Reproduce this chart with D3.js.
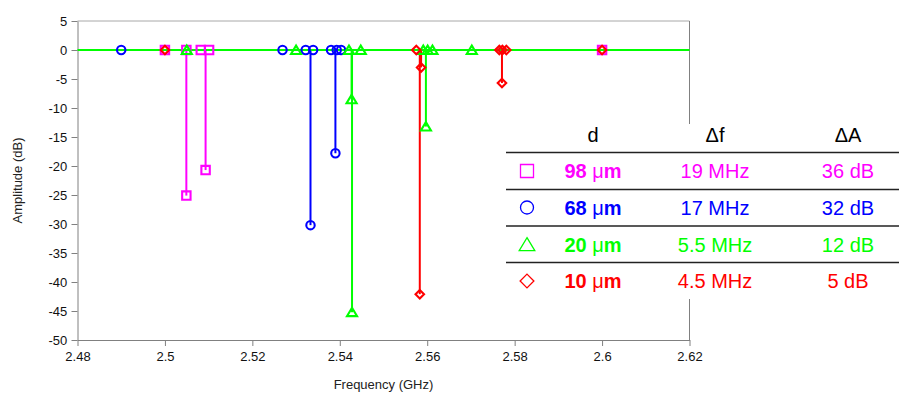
<!DOCTYPE html>
<html><head><meta charset="utf-8">
<script src="https://cdn.jsdelivr.net/npm/d3@7"></script>
<style>body{margin:0;background:#fff}svg{display:block;font-family:"Liberation Sans",Arial,sans-serif}</style>
</head><body><svg id="c" width="899" height="394"></svg>
<script>
// ---- data ----
const xTicks = [2.48, 2.5, 2.52, 2.54, 2.56, 2.58, 2.6, 2.62];
const yTicks = [5, 0, -5, -10, -15, -20, -25, -30, -35, -40, -45, -50];
const baseline = [[2.48, 0], [2.62, 0]];
// [frequency GHz, amplitude dB]
const magenta = [[2.5, 0], [2.5049, 0], [2.5049, -25.1], [2.5082, 0], [2.5093, -20.7], [2.5101, 0], [2.6, 0]];
const blue = [[2.49, 0], [2.5269, 0], [2.5322, 0], [2.5333, -30.2], [2.5339, 0], [2.538, 0], [2.5390, -17.8], [2.5393, 0], [2.5403, 0]];
const green = [[2.505, 0], [2.53, 0], [2.5421, 0], [2.5427, -8.5], [2.5428, -45.2], [2.5448, 0], [2.5591, 0], [2.5597, -13.2], [2.5601, 0], [2.5612, 0], [2.5702, 0]];
const red = [[2.5, 0], [2.5575, 0], [2.5583, -42.1], [2.5586, -3.0], [2.5765, 0], [2.5771, -5.7], [2.5772, 0], [2.5781, 0], [2.6, 0]];
const legendHeader = ["d", "Δf", "ΔA"];
const legendD = ["98", "68", "20", "10"];
const legendDf = ["19 MHz", "17 MHz", "5.5 MHz", "4.5 MHz"];
const legendDA = ["36 dB", "32 dB", "12 dB", "5 dB"];

const colors = ["#ff00ff", "#0000ff", "#00ff00", "#ff0000"];
const shapes = ["square", "circle", "triangle", "diamond"];
const series = [magenta, blue, green, red];

const svg = d3.select("#c");
const x = d3.scaleLinear().domain([2.48, 2.62]).range([77.5, 689.5]);
const y = d3.scaleLinear().domain([-50, 5]).range([340, 21]);

// frame
svg.append("line").attr("x1", x(2.48)).attr("x2", x(2.62)).attr("y1", y(5)).attr("y2", y(5)).attr("stroke", "#a8a8a8");
svg.append("line").attr("x1", x(2.62)).attr("x2", x(2.62)).attr("y1", y(5)).attr("y2", y(-50)).attr("stroke", "#808080");

// axes
const fmt = d => String(+d.toFixed(2));
const gx = svg.append("g").attr("transform", `translate(0,${y(-50)})`)
  .call(d3.axisBottom(x).tickValues(xTicks).tickFormat(fmt).tickSize(6).tickSizeOuter(0));
const gy = svg.append("g").attr("transform", `translate(${x(2.48)},0)`)
  .call(d3.axisLeft(y).tickValues(yTicks).tickFormat(d => String(d)).tickSize(6).tickSizeOuter(0));
[gx, gy].forEach(g => {
  g.select(".domain").attr("stroke", "#808080");
  g.selectAll(".tick line").attr("stroke", "#808080");
  g.selectAll(".tick text").attr("fill", "#111").style("font-size", "13px")
    .style("font-family", '"Liberation Sans",Arial,sans-serif');
});
gx.selectAll(".tick text").attr("dy", "0.95em");
gy.selectAll(".tick text").attr("dx", "-0.1em");

svg.append("text").attr("x", (x(2.48) + x(2.62)) / 2).attr("y", 389).attr("text-anchor", "middle")
  .attr("fill", "#222").style("font-size", "13px").text("Frequency (GHz)");
svg.append("text").attr("transform", `translate(22,${(y(5) + y(-50)) / 2}) rotate(-90)`)
  .attr("text-anchor", "middle").attr("fill", "#222").style("font-size", "13px").text("Amplitude (dB)");

// stems
series.forEach((s, i) => {
  svg.append("g").selectAll("line").data(s.filter(p => p[1] < 0)).join("line")
    .attr("x1", d => x(d[0])).attr("x2", d => x(d[0]))
    .attr("y1", y(0)).attr("y2", d => y(d[1]))
    .attr("stroke", colors[i]).attr("stroke-width", 2);
});
// baseline
svg.append("path").datum(baseline)
  .attr("d", d3.line().x(d => x(d[0])).y(d => y(d[1])))
  .attr("stroke", "#00ff00").attr("stroke-width", 2).attr("fill", "none");

function shapePath(shape, s) {
  if (shape === "square") return `M${-s},${-s}H${s}V${s}H${-s}Z`;
  if (shape === "circle") return `M${-s},0A${s},${s} 0 1 0 ${s},0A${s},${s} 0 1 0 ${-s},0Z`;
  if (shape === "triangle") return `M0,${-s * 1.05}L${s * 1.2},${s * 0.95}L${-s * 1.2},${s * 0.95}Z`;
  if (shape === "diamond") return `M0,${-s * 1.15}L${s * 1.15},0L0,${s * 1.15}L${-s * 1.15},0Z`;
}
// markers
series.forEach((s, i) => {
  svg.append("g").selectAll("path").data(s).join("path")
    .attr("transform", d => `translate(${x(d[0])},${y(d[1])})`)
    .attr("d", shapePath(shapes[i], shapes[i] === "diamond" ? 3.7 : 4.2))
    .attr("fill", "none").attr("stroke", colors[i]).attr("stroke-width", 2.1);
});

// legend table
const lg = svg.append("g");
lg.append("rect").attr("x", 505).attr("y", 124).attr("width", 394).attr("height", 175).attr("fill", "#fff");
const colX = [593, 715, 848];
const rowY = [171, 207.5, 244.5, 281];
const lineY = [152.5, 189.5, 226, 262.5];
lg.selectAll("text.h").data(legendHeader).join("text").attr("class", "h")
  .attr("x", (d, i) => colX[i]).attr("y", 142).attr("text-anchor", "middle")
  .style("font-size", "20px").attr("fill", "#000").text(d => d);
lg.selectAll("line").data(lineY).join("line")
  .attr("x1", 506).attr("x2", 899).attr("y1", d => d).attr("y2", d => d)
  .attr("stroke", "#222").attr("stroke-width", 1.5);
legendD.forEach((d, i) => {
  lg.append("path").attr("transform", `translate(527,${rowY[i]})`)
    .attr("d", shapePath(shapes[i], shapes[i] === "diamond" ? 6 : 6.5))
    .attr("fill", "none").attr("stroke", colors[i]).attr("stroke-width", 1.3);
  const t = lg.append("text").attr("x", colX[0]).attr("y", rowY[i] + 7).attr("text-anchor", "middle")
    .style("font-size", "20px").attr("fill", colors[i]);
  t.append("tspan").style("font-weight", "bold").text(d + " ");
  t.append("tspan").text("μ");
  t.append("tspan").style("font-weight", "bold").text("m");
  lg.append("text").attr("x", colX[1]).attr("y", rowY[i] + 7).attr("text-anchor", "middle")
    .style("font-size", "20px").attr("fill", colors[i]).text(legendDf[i]);
  lg.append("text").attr("x", colX[2]).attr("y", rowY[i] + 7).attr("text-anchor", "middle")
    .style("font-size", "20px").attr("fill", colors[i]).text(legendDA[i]);
});
</script></body></html>
